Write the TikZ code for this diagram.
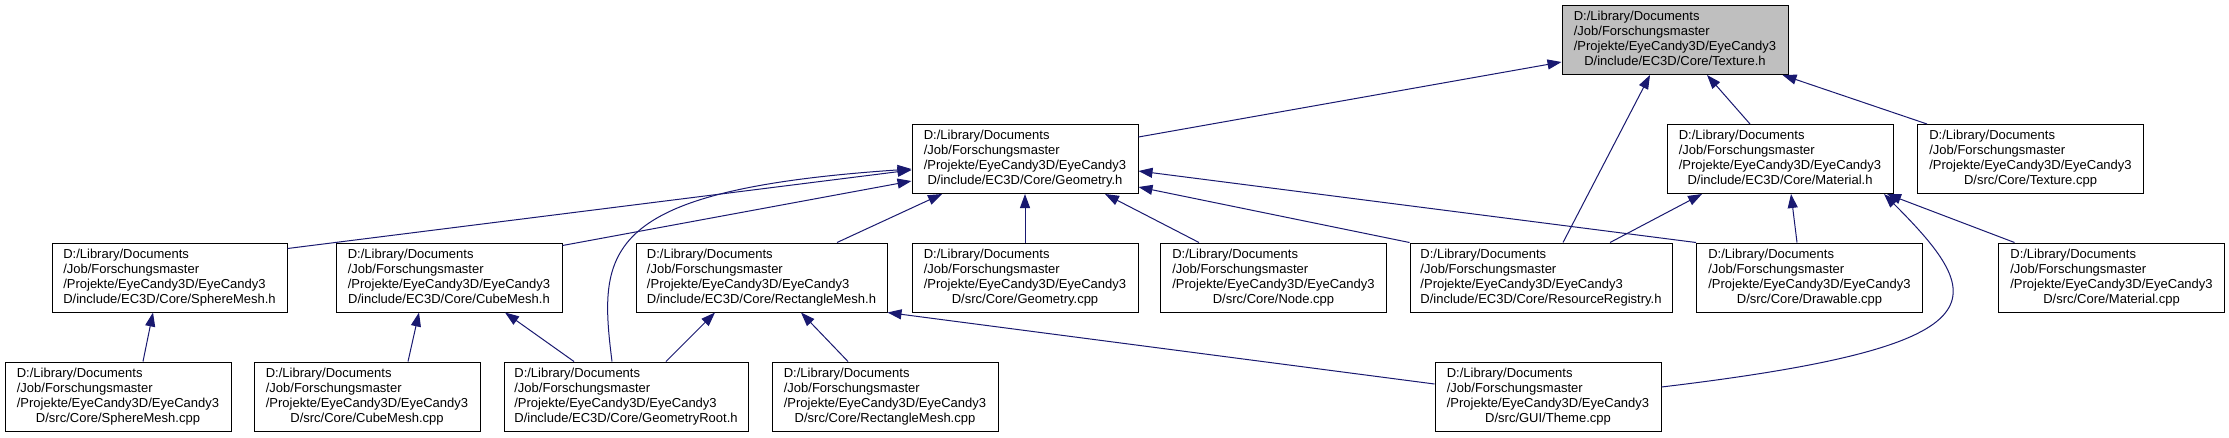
\documentclass[tikz,border=0pt]{standalone}
\usepackage{fontspec}
\setmainfont{Liberation Sans}
\usetikzlibrary{arrows.meta,calc}
\definecolor{edgeblue}{HTML}{191970}
\definecolor{rootgray}{HTML}{BFBFBF}
\newcommand{\flabel}[1]{\begin{tabular}{@{}l@{}}D:/Library/Documents\\/Job/Forschungsmaster\\/Projekte/EyeCandy3D/EyeCandy3\\\multicolumn{1}{@{}c@{}}{D/#1}\end{tabular}}
\begin{document}
\begin{tikzpicture}[x=0.75pt,y=-0.75pt,
  file/.style={draw=black, line width=0.75pt, fill=white, inner sep=0pt,
    minimum width=169.5pt, minimum height=51.75pt,
    font=\fontsize{9.75pt}{11.25pt}\selectfont, text=black},
  rootfile/.style={file, fill=rootgray},
  edge/.style={draw=edgeblue, line width=0.75pt, -{Triangle[length=10.5pt,width=7.5pt]}}]
\fill[white] (0,0) rectangle (2229,437);
\useasboundingbox (0,0) rectangle (2229,437);
% row 0
\node[rootfile] (texh) at (1675,40) {\flabel{include/EC3D/Core/Texture.h}};
% row 1
\node[file] (geomh) at (1025,159) {\flabel{include/EC3D/Core/Geometry.h}};
\node[file] (math) at (1780,159) {\flabel{include/EC3D/Core/Material.h}};
\node[file] (texcpp) at (2030.5,159) {\flabel{src/Core/Texture.cpp}};
% row 2
\node[file, minimum width=176.25pt] (sphh) at (169.5,277.5) {\flabel{include/EC3D/Core/SphereMesh.h}};
\node[file] (cubeh) at (449,277.5) {\flabel{include/EC3D/Core/CubeMesh.h}};
\node[file, minimum width=188.25pt] (recth) at (761.5,277.5) {\flabel{include/EC3D/Core/RectangleMesh.h}};
\node[file] (geomcpp) at (1025,277.5) {\flabel{src/Core/Geometry.cpp}};
\node[file] (nodecpp) at (1273.5,277.5) {\flabel{src/Core/Node.cpp}};
\node[file, minimum width=196.5pt] (resreg) at (1541,277.5) {\flabel{include/EC3D/Core/ResourceRegistry.h}};
\node[file] (drawcpp) at (1809.5,277.5) {\flabel{src/Core/Drawable.cpp}};
\node[file] (matcpp) at (2111.5,277.5) {\flabel{src/Core/Material.cpp}};
% row 3
\node[file] (sphcpp) at (118,396.5) {\flabel{src/Core/SphereMesh.cpp}};
\node[file] (cubecpp) at (367,396.5) {\flabel{src/Core/CubeMesh.cpp}};
\node[file, minimum width=183pt] (georoot) at (626,396.5) {\flabel{include/EC3D/Core/GeometryRoot.h}};
\node[file] (rectcpp) at (885,396.5) {\flabel{src/Core/RectangleMesh.cpp}};
\node[file] (themecpp) at (1548,396.5) {\flabel{src/GUI/Theme.cpp}};
% edges to Texture.h
\draw[edge] ($(geomh.east)+(0,-22)$) -- ($(texh.west)+(0,22)$);
\draw[edge] ($(resreg.north)+(22,0)$) -- ($(texh.south)+(-25,0)$);
\draw[edge] ($(math.north)+(-30,0)$) -- ($(texh.south)+(32,0)$);
\draw[edge] ($(texcpp.north)+(-103.5,0)$) -- ($(texh.south east)+(-6,0)$);
% edges to Geometry.h
\draw[edge] ($(sphh.north east)+(0,6)$) -- ($(geomh.west)+(0,11)$);
\draw[edge] ($(cubeh.north east)+(0,3)$) -- ($(geomh.west)+(0,22)$);
\draw[edge] ($(georoot.north)+(-14,0)$) .. controls (598,250) and (600,190) .. ($(geomh.west)+(0,10)$);
\draw[edge] ($(recth.north)+(75.5,0)$) -- ($(geomh.south)+(-83,0)$);
\draw[edge] (geomcpp) -- (geomh);
\draw[edge] ($(nodecpp.north)+(-74.5,0)$) -- ($(geomh.south)+(80,0)$);
\draw[edge] (resreg.north west) -- ($(geomh.east)+(0,28)$);
\draw[edge] (drawcpp.north west) -- ($(geomh.east)+(0,12)$);
% edges to Material.h
\draw[edge] ($(resreg.north)+(69,0)$) -- ($(math.south)+(-78,0)$);
\draw[edge] ($(drawcpp.north)+(-12.5,0)$) -- ($(math.south)+(11,0)$);
\draw[edge] ($(matcpp.north)+(-97,0)$) -- ($(math.south)+(107,0)$);
\draw[edge] ($(themecpp.east)+(0,-9.5)$) .. controls (2005,346) and (1990,300) .. ($(math.south)+(104,0)$);
% edges to mesh headers
\draw[edge] ($(sphcpp.north)+(25,0)$) -- ($(sphh.south)+(-16.5,0)$);
\draw[edge] ($(cubecpp.north)+(41,0)$) -- ($(cubeh.south)+(-30,0)$);
\draw[edge] ($(georoot.north)+(-52,0)$) -- ($(cubeh.south)+(56,0)$);
\draw[edge] ($(georoot.north)+(40,0)$) -- ($(recth.south)+(-46.5,0)$);
\draw[edge] ($(rectcpp.north)+(-37,0)$) -- ($(recth.south)+(39.5,0)$);
\draw[edge] ($(themecpp.west)+(0,-12.5)$) -- (recth.south east);
\end{tikzpicture}
\end{document}
